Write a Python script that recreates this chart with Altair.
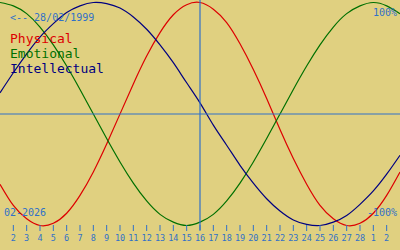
import altair as alt
import pandas as pd

# day index 0 = 1 Feb 2026 ... 30 = 3 Mar 2026
day_index = list(range(31))
physical = [-0.63, -0.82, -0.94, -1.00, -0.98, -0.89, -0.73, -0.52, -0.27, 0.00,
            0.27, 0.52, 0.73, 0.89, 0.98, 1.00, 0.94, 0.82, 0.63, 0.40,
            0.14, -0.14, -0.40, -0.63, -0.82, -0.94, -1.00, -0.98, -0.89, -0.73, -0.52]
emotional = [1.00, 0.97, 0.90, 0.78, 0.62, 0.43, 0.22, 0.00, -0.22, -0.43,
             -0.62, -0.78, -0.90, -0.97, -1.00, -0.97, -0.90, -0.78, -0.62, -0.43,
             -0.22, 0.00, 0.22, 0.43, 0.62, 0.78, 0.90, 0.97, 1.00, 0.97, 0.90]
intellectual = [0.19, 0.37, 0.54, 0.69, 0.81, 0.91, 0.97, 1.00, 0.99, 0.95,
                0.87, 0.76, 0.62, 0.46, 0.28, 0.10, -0.10, -0.28, -0.46, -0.62,
                -0.76, -0.87, -0.95, -0.99, -1.00, -0.97, -0.91, -0.81, -0.69, -0.54, -0.37]

series_names = ["Physical", "Emotional", "Intellectual"]
series_colors = ["#DD0000", "#007000", "#000080"]

tick_index = list(range(1, 30))
tick_labels = [str(d) for d in range(2, 29)] + ["1", "2"]
today_index = 15

birth_label = "<-- 28/02/1999"
month_label = "02-2026"
top_label = "100%"
bottom_label = "-100%"

BG = "#E0D080"
BLUE = "#3070C8"
FONT = "DejaVu Sans Mono"

rows = []
for name, vals in zip(series_names, [physical, emotional, intellectual]):
    for d, v in zip(day_index, vals):
        rows.append({"day": d, "value": v, "series": name})
df = pd.DataFrame(rows)

xs = alt.Scale(domain=[0, 30], range=[0, 400], nice=False, zero=False)
ys = alt.Scale(domain=[-1, 1], range=[225.5, 2.5], nice=False, zero=False)

lines = alt.Chart(df).mark_line(interpolate="natural", strokeWidth=1.2).encode(
    x=alt.X("day:Q", scale=xs, axis=None),
    y=alt.Y("value:Q", scale=ys, axis=None),
    color=alt.Color("series:N", scale=alt.Scale(domain=series_names, range=series_colors), legend=None),
    detail="series:N",
)

hline = alt.Chart(pd.DataFrame({"v": [0]})).mark_rule(color=BLUE, strokeWidth=1.2).encode(
    y=alt.Y("v:Q", scale=ys), x=alt.value(0), x2=alt.value(400)
)
vline = alt.Chart(pd.DataFrame({"d": [today_index]})).mark_rule(color=BLUE, strokeWidth=1.2).encode(
    x=alt.X("d:Q", scale=xs), y=alt.value(0), y2=alt.value(230)
)

ticks_df = pd.DataFrame({"day": tick_index, "label": tick_labels})
ticks = alt.Chart(ticks_df).mark_rule(color=BLUE, strokeWidth=1).encode(
    x=alt.X("day:Q", scale=xs), y=alt.value(225), y2=alt.value(231)
)
tick_text = alt.Chart(ticks_df).mark_text(color=BLUE, font=FONT, fontSize=8.5, baseline="alphabetic", align="center").encode(
    x=alt.X("day:Q", scale=xs), y=alt.value(241), text="label:N"
)

leg_df = pd.DataFrame({"series": series_names, "yy": [43, 58, 73]})
legend = alt.Chart(leg_df).mark_text(font=FONT, fontSize=13, align="left", baseline="alphabetic").encode(
    x=alt.value(10), y=alt.Y("yy:Q", scale=None), text="series:N",
    color=alt.Color("series:N", scale=alt.Scale(domain=series_names, range=series_colors), legend=None),
)

def label(txt, x, y, align):
    return alt.Chart(pd.DataFrame({"t": [txt]})).mark_text(
        font=FONT, fontSize=10, color=BLUE, align=align, baseline="alphabetic"
    ).encode(x=alt.value(x), y=alt.value(y), text="t:N")

chart = alt.layer(
    lines, hline, vline, ticks, tick_text, legend,
    label(birth_label, 10, 21, "left"),
    label(month_label, 4, 216, "left"),
    label(top_label, 397, 16, "right"),
    label(bottom_label, 397, 216, "right"),
).properties(width=400, height=250).configure(
    background=BG, padding=0, autosize=alt.AutoSizeParams(type="none")
).configure_view(stroke=None, fill=BG)

chart.save("out.html", embed_options={"renderer": "svg", "actions": False})
